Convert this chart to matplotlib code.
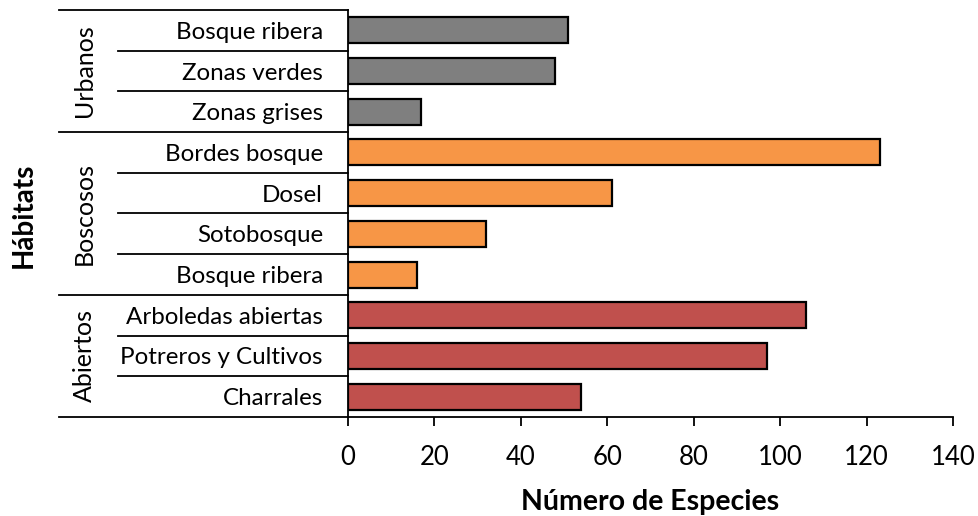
import matplotlib
matplotlib.use("Agg")
import matplotlib.pyplot as plt
import matplotlib.transforms as mtransforms

plt.rcParams['font.family'] = ['Lato', 'DejaVu Sans']

groups = ["Urbanos", "Boscosos", "Abiertos"]
group_sizes = [3, 4, 3]
categories = ["Bosque ribera", "Zonas verdes", "Zonas grises",
              "Bordes bosque", "Dosel", "Sotobosque", "Bosque ribera",
              "Arboledas abiertas", "Potreros y Cultivos", "Charrales"]
values = [51, 48, 17, 123, 61, 32, 16, 106, 97, 54]
group_colors = ["#7F7F7F", "#F79646", "#C0504D"]
xticks = [0, 20, 40, 60, 80, 100, 120, 140]

colors = []
for c, n in zip(group_colors, group_sizes):
    colors += [c] * n

fig = plt.figure(figsize=(9.79, 5.16), dpi=100)
ax = fig.add_axes([348/979, 1-417/516, (953-348)/979, (417-10)/516])

ypos = list(range(len(categories)))
ax.barh(ypos, values, height=0.64, color=colors, edgecolor='black', linewidth=1.6, zorder=3)
ax.set_ylim(len(categories)-0.5, -0.5)
ax.set_xlim(0, 140)
ax.set_xticks(xticks)
ax.set_xticklabels([str(t) for t in xticks], fontsize=18.5)
ax.tick_params(axis='x', direction='out', length=6.5, width=1.3, pad=14)
ax.set_yticks(ypos)
ax.set_yticklabels(categories, fontsize=17.4)
ax.tick_params(axis='y', length=0, pad=18)

for s in ['top', 'right']:
    ax.spines[s].set_visible(False)
ax.spines['left'].set_linewidth(1.3)
ax.spines['bottom'].set_linewidth(1.3)

trans = mtransforms.blended_transform_factory(ax.transAxes, ax.transData)
inner_x = (118-348)/605
outer_x = (59-348)/605

bounds = [-0.5]
acc = 0
for n in group_sizes:
    acc += n
    bounds.append(acc - 0.5)
group_bounds = set(bounds)
for b in [i - 0.5 for i in range(len(categories)+1)]:
    x0 = outer_x if b in group_bounds else inner_x
    ax.plot([x0, 0], [b, b], color='black', lw=1.3, transform=trans, clip_on=False, zorder=5)

start = 0
gx = (84-348)/605
for g, n in zip(groups, group_sizes):
    center = start + (n-1)/2
    ax.text(gx, center, g, rotation=90, ha='center', va='center', fontsize=18,
            transform=trans)
    start += n

ax.set_xlabel("Número de Especies", fontsize=20.5, fontweight='bold', labelpad=13)
fig.text(24/979, 1-215/516, "Hábitats", rotation=90, ha='center', va='center',
         fontsize=20, fontweight='bold')

fig.savefig("out.png", dpi=100)
